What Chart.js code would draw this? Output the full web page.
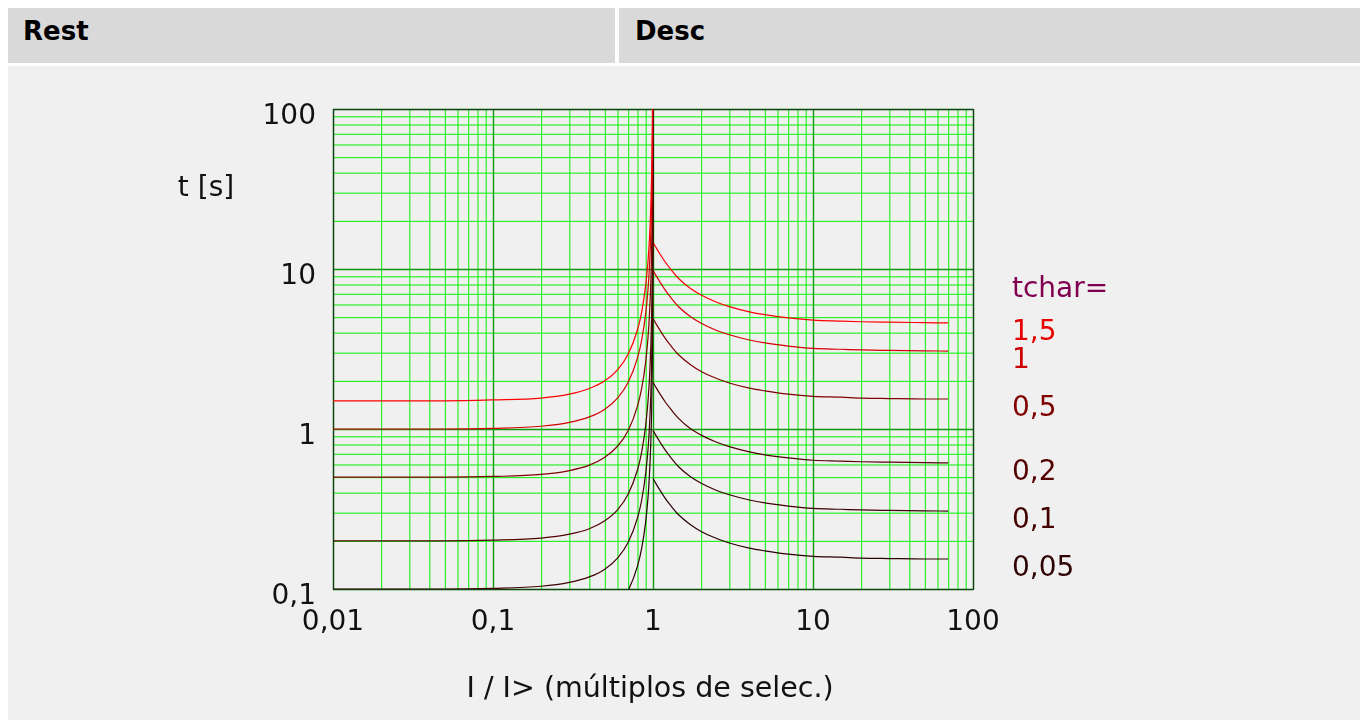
<!DOCTYPE html>
<html><head><meta charset="utf-8">
<script src="https://cdn.jsdelivr.net/npm/chart.js@4.4.1/dist/chart.umd.min.js"></script>
<style>
html,body{margin:0;padding:0;background:#fff;width:1368px;height:720px;overflow:hidden;font-family:'DejaVu Sans',sans-serif;}
.hdr{position:absolute;top:8px;height:55px;background:#d9d9d9;font-weight:bold;font-size:26px;line-height:46px;color:#000;box-sizing:border-box;}
#h1{left:8px;width:607px;padding-left:15px;}
#h2{left:619px;width:741px;padding-left:16px;}
#panel{position:absolute;left:8px;top:66px;width:1352px;height:654px;background:#f0f0f0;}
#c{position:absolute;left:0;top:0;}
</style></head><body>
<div class="hdr" id="h1">Rest</div><div class="hdr" id="h2">Desc</div>
<div id="panel"><canvas id="c" width="1352" height="654"></canvas></div>
<script>
// ---- data ----
const xLeft  = [0.01,0.05,0.1,0.2,0.3,0.4,0.5,0.6,0.7,0.8,0.85,0.9,0.93,0.95,0.97,0.98,0.99,0.995,0.998,0.9995,0.9999];
const xRight = [1,1.05,1.1,1.19,1.3,1.44,1.7,2,2.5,3,4,5,7,10,15,20,30,50,70];

const tcharLabels = ["1,5","1","0,5","0,2","0,1","0,05"];
const tcharColors = ["#ff0000","#d40000","#800000","#520000","#3e0000","#2a0000"];
const labelColors = ["#e60000","#cc0000","#800000","#550000","#420000","#300404"];

const left15  = [1.5,1.5,1.52,1.56,1.65,1.79,2.0,2.34,2.94,4.17,5.4,7.9,11.1,15.4,25.4,38,75,150,375,1500,7500];
const left1   = [1,1,1.01,1.04,1.1,1.19,1.33,1.56,1.96,2.78,3.6,5.26,7.4,10.3,16.9,25.3,50,100,250,1000,5000];
const left05  = [0.5,0.5,0.505,0.52,0.55,0.595,0.667,0.78,0.98,1.39,1.8,2.63,3.7,5.15,8.45,12.6,25,50,125,500,2500];
const left02  = [0.2,0.2,0.202,0.208,0.22,0.238,0.267,0.312,0.392,0.556,0.72,1.05,1.48,2.06,3.38,5.05,10,20,50,200,1000];
const left01  = [0.1,0.1,0.101,0.104,0.11,0.119,0.133,0.156,0.196,0.278,0.36,0.526,0.74,1.03,1.69,2.53,5,10,25,100,500];
const left005 = [0.05,0.05,0.0505,0.052,0.055,0.0595,0.0667,0.078,0.098,0.139,0.18,0.263,0.37,0.515,0.845,1.26,2.5,5,12.5,50,250];

const right15  = [14.7,13.5,12.5,11.1,9.87,8.75,7.6,6.87,6.2,5.82,5.4,5.18,4.95,4.79,4.72,4.68,4.65,4.62,4.6];
const right1   = [9.8,9.02,8.36,7.4,6.58,5.83,5.07,4.58,4.13,3.88,3.6,3.45,3.3,3.19,3.15,3.12,3.1,3.08,3.07];
const right05  = [4.9,4.51,4.18,3.7,3.29,2.92,2.54,2.29,2.07,1.94,1.8,1.73,1.65,1.6,1.58,1.56,1.55,1.54,1.54];
const right02  = [1.96,1.8,1.67,1.48,1.32,1.17,1.01,0.916,0.826,0.776,0.72,0.69,0.66,0.638,0.63,0.624,0.62,0.616,0.614];
const right01  = [0.98,0.902,0.836,0.74,0.658,0.583,0.507,0.458,0.413,0.388,0.36,0.345,0.33,0.319,0.315,0.312,0.31,0.308,0.307];
const right005 = [0.49,0.451,0.418,0.37,0.329,0.292,0.254,0.229,0.207,0.194,0.18,0.173,0.165,0.16,0.158,0.156,0.155,0.154,0.154];

const xTickValues = [0.01,0.1,1,10,100];
const xTickLabels = ["0,01","0,1","1","10","100"];
const yTickValues = [0.1,1,10,100];
const yTickLabels = ["0,1","1","10","100"];

const yAxisTitle = "t [s]";
const xAxisTitle = "I / I> (múltiplos de selec.)";
const legendTitle = "tchar=";

// ---- build chart ----
const leftSeries  = [left15,left1,left05,left02,left01,left005];
const rightSeries = [right15,right1,right05,right02,right01,right005];

const datasets = [];
leftSeries.forEach((s,i)=>{
  datasets.push({data:xLeft.map((x,j)=>({x,y:s[j]})),borderColor:tcharColors[i],borderWidth:1.2,pointRadius:0,cubicInterpolationMode:'monotone',fill:false});
});
rightSeries.forEach((s,i)=>{
  datasets.push({data:xRight.map((x,j)=>({x,y:s[j]})),borderColor:tcharColors[i],borderWidth:1.2,pointRadius:0,cubicInterpolationMode:'monotone',fill:false});
});

function near(a,b){return Math.abs(a-b)<=Math.abs(b)*1e-6;}
function gridValues(decades){
  const out=[];
  for(let k=0;k<decades.length-1;k++){
    for(let m=1;m<=9;m++) out.push(+(decades[k]*m).toPrecision(6));
  }
  out.push(decades[decades.length-1]);
  return out;
}
const MAJOR='#0c9a0c', MINOR='#00f000';
const xGrid=gridValues(xTickValues), yGrid=gridValues(yTickValues);

Chart.defaults.font.family="'DejaVu Sans', sans-serif";
Chart.defaults.font.size=28;
Chart.defaults.color='#111';

const gridPlugin={
  id:'logGrid',
  beforeDatasetsDraw(chart){
    const {ctx,chartArea:a,scales:{x,y}}=chart;
    ctx.save();
    const draw=(major)=>{
      ctx.lineWidth=major?1.4:1;
      xGrid.forEach(v=>{
        if(xTickValues.some(d=>near(v,d))!==major) return;
        const px=x.getPixelForValue(v)+0.5;
        ctx.strokeStyle=major?MAJOR:MINOR;
        ctx.beginPath();ctx.moveTo(px,a.top);ctx.lineTo(px,a.bottom);ctx.stroke();
      });
      yGrid.forEach(v=>{
        if(yTickValues.some(d=>near(v,d))!==major) return;
        const py=y.getPixelForValue(v)+0.5;
        ctx.strokeStyle=major?MAJOR:MINOR;
        ctx.beginPath();ctx.moveTo(a.left,py);ctx.lineTo(a.right,py);ctx.stroke();
      });
    };
    draw(false);draw(true);
    ctx.lineWidth=1.2;
    ctx.strokeStyle='#1c3a1c';
    ctx.strokeRect(Math.round(a.left)+0.5,Math.round(a.top)+0.5,Math.round(a.right-a.left),Math.round(a.bottom-a.top));
    ctx.restore();
  },
  afterDraw(chart){
    const {ctx,chartArea:a,scales}=chart;
    ctx.save();
    ctx.font="28px 'DejaVu Sans', sans-serif";
    ctx.textBaseline='middle';
    ctx.fillStyle='#111';
    ctx.textAlign='center';
    ctx.fillText(yAxisTitle,a.left-127,a.top+80);
    ctx.font="28.5px 'DejaVu Sans', sans-serif";
    ctx.fillText(xAxisTitle,(a.left+a.right)/2-3,a.bottom+101);
    ctx.font="28px 'DejaVu Sans', sans-serif";
    ctx.textAlign='left';
    const lx=a.right+39;
    let firstY=null;
    rightSeries.forEach((s,i)=>{
      const yy=scales.y.getPixelForValue(s[s.length-1])+10;
      if(firstY===null) firstY=yy;
      ctx.fillStyle=labelColors[i];
      ctx.fillText(tcharLabels[i],lx,yy);
    });
    ctx.fillStyle='#80004f';
    ctx.fillText(legendTitle,lx,firstY-43);
    ctx.restore();
  }
};

new Chart(document.getElementById('c'),{
  type:'line',
  data:{datasets},
  options:{
    responsive:false,animation:false,devicePixelRatio:1,
    layout:{padding:{left:0,top:43,right:387,bottom:71}},
    plugins:{legend:{display:false},tooltip:{enabled:false}},
    scales:{
      x:{type:'logarithmic',min:0.01,max:100,position:'bottom',
        afterBuildTicks(s){s.ticks=xTickValues.map(v=>({value:v}));},
        afterFit(s){s.height=60;},
        border:{display:false},
        grid:{display:false,drawTicks:false},
        ticks:{autoSkip:false,maxRotation:0,minRotation:0,padding:17,color:'#111',
          callback(v){const i=xTickValues.findIndex(d=>near(v,d));return i>=0?xTickLabels[i]:'';}}
      },
      y:{type:'logarithmic',min:0.1,max:100,position:'left',
        afterBuildTicks(s){s.ticks=yTickValues.map(v=>({value:v}));},
        afterFit(s){s.width=325;},
        border:{display:false},
        grid:{display:false,drawTicks:false},
        ticks:{autoSkip:false,padding:17,labelOffset:8,color:'#111',
          callback(v){const i=yTickValues.findIndex(d=>near(v,d));return i>=0?yTickLabels[i]:'';}}
      }
    }
  },
  plugins:[gridPlugin]
});
</script>
</body></html>
